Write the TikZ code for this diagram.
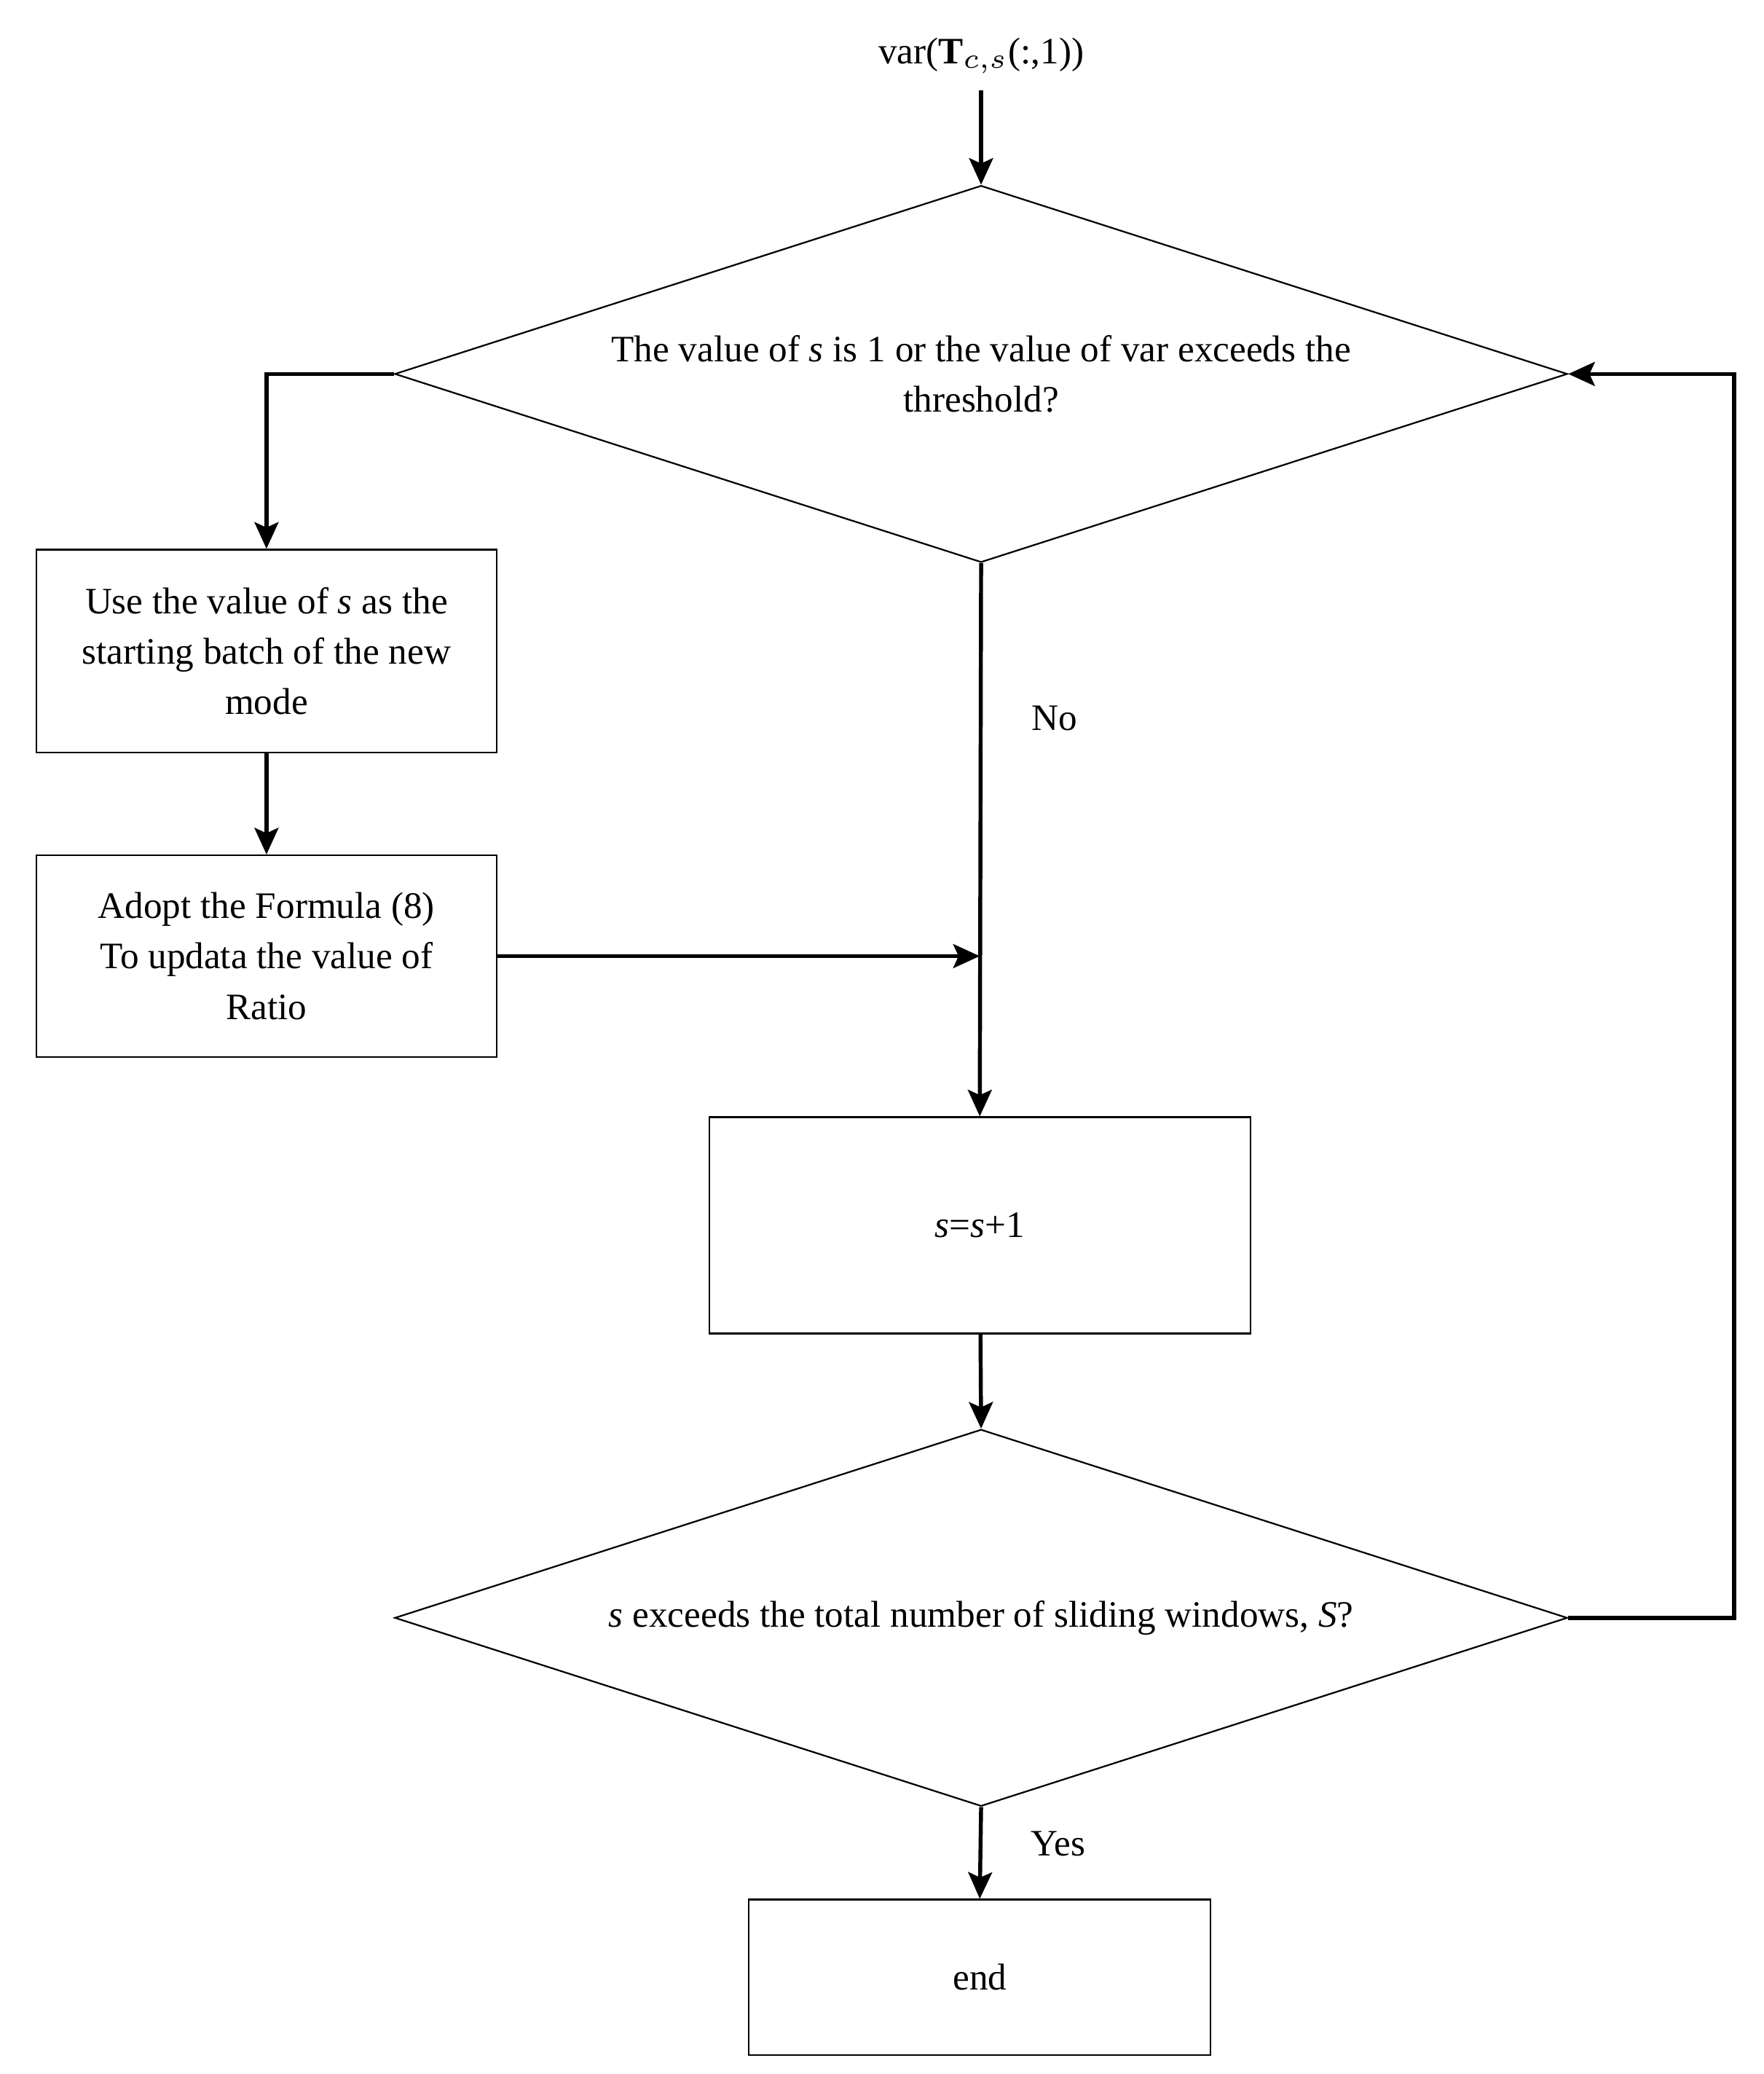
\documentclass[tikz,border=0pt]{standalone}
\usepackage{fontspec}
\setmainfont{Liberation Serif}
\usetikzlibrary{shapes.geometric,arrows.meta,positioning}
\begin{document}
\begin{tikzpicture}[x=0.01cm,y=-0.01cm,font=\fontsize{8}{10.8}\selectfont,
    flow/.style={->,>={Stealth[length=2mm,width=1.8mm,inset=0.4mm]},line width=0.85pt},
    box/.style={draw,line width=0.35pt,align=center,inner sep=0pt},
    decision/.style={draw,diamond,line width=0.35pt,inner sep=0pt,minimum width=8.84cm,minimum height=2.84cm}]
  \useasboundingbox (0,0) rectangle (1330,1564);

  \node (start) at (740,42) {var($\mathbf{T}_{c,s}$(:,1))};
  \node[decision,label={[align=center]center:The value of \textit{s} is 1 or the value of var exceeds the\\threshold?}] (check) at (740,282) {};
  \node[box,minimum width=3.47cm,minimum height=1.53cm] (newmode) at (201,491) {Use the value of \textit{s} as the\\starting batch of the new\\mode};
  \node[box,minimum width=3.47cm,minimum height=1.52cm] (ratio) at (201,721) {Adopt the Formula (8)\\To updata the value of\\Ratio};
  \node[box,minimum width=4.08cm,minimum height=1.63cm] (incr) at (739,924) {\textit{s}=\textit{s}+1};
  \node[decision,label={center:\textit{s} exceeds the total number of sliding windows, \textit{S}?}] (last) at (740,1220) {};
  \node[box,minimum width=3.48cm,minimum height=1.17cm] (end) at (739,1491) {end};
  \coordinate (join) at (739,721);
  \coordinate (back) at (1308,1220);

  \draw[flow] (start) -- (check.north);
  \draw[flow] (check.west) -| (newmode.north);
  \draw[flow] (newmode) -- (ratio);
  \draw[flow] (ratio.east) -- (join);
  \draw[flow] (check.south) -- node[right=0.25cm,pos=0.28] {No} (incr.north);
  \draw[flow] (incr) -- (last.north);
  \draw[flow] (last.south) -- node[right=0.25cm,pos=0.4] {Yes} (end.north);
  \draw[flow] (last.east) -- (back) |- (check.east);
\end{tikzpicture}
\end{document}
